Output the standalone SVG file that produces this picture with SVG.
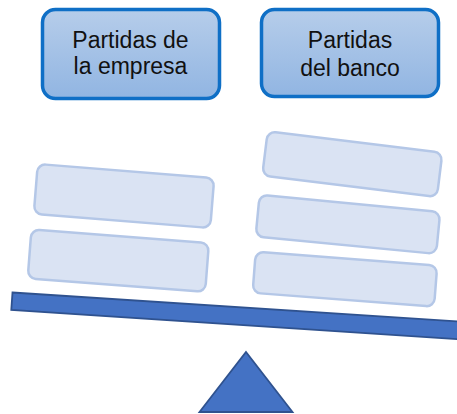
<svg xmlns="http://www.w3.org/2000/svg" width="457" height="414" viewBox="0 0 457 414">
  <defs>
    <linearGradient id="hdrGrad" x1="0" y1="0" x2="0" y2="1">
      <stop offset="0" stop-color="#b6cdea"/>
      <stop offset="1" stop-color="#91b5e2"/>
    </linearGradient>
    <style>
      .hdr { fill: url(#hdrGrad); stroke: #0f6fc6; stroke-width: 3.5; }
      .hdr-text { font-family: "Liberation Sans", Arial, sans-serif; font-size: 23px; fill: #111111; text-anchor: middle; }
      .item { fill: #dae3f3; stroke: #b4c7e7; stroke-width: 2.5; }
      .solid { fill: #4472c4; stroke: #2f528f; stroke-width: 1.8; stroke-linejoin: miter; }
    </style>
  </defs>

  <rect width="457" height="414" fill="#ffffff"/>

  <g id="node-empresa">
    <rect class="hdr" x="42.5" y="9.5" width="177" height="89" rx="13" ry="13"/>
    <text class="hdr-text" x="130.5" y="47.5">Partidas de</text>
    <text class="hdr-text" x="130.5" y="74">la empresa</text>
  </g>

  <g id="node-banco">
    <rect class="hdr" x="261.5" y="9.5" width="177" height="87" rx="13" ry="13"/>
    <text class="hdr-text" x="350" y="48">Partidas</text>
    <text class="hdr-text" x="350" y="75.5">del banco</text>
  </g>

  <g id="item-empresa-1">
    <rect class="item" x="-88.5" y="-25" width="177" height="50" rx="8" transform="translate(124 196) rotate(4.6)"/>
  </g>
  <g id="item-empresa-2">
    <rect class="item" x="-89" y="-24.5" width="178" height="49" rx="8" transform="translate(118.3 260.7) rotate(4.4)"/>
  </g>

  <g id="item-banco-1">
    <rect class="item" x="-88" y="-22.3" width="176" height="44.6" rx="8" transform="translate(352.3 164.2) rotate(7)"/>
  </g>
  <g id="item-banco-2">
    <rect class="item" x="-90.7" y="-21" width="181.4" height="42" rx="8" transform="translate(347.9 224.3) rotate(5.5)"/>
  </g>
  <g id="item-banco-3">
    <rect class="item" x="-91" y="-20.6" width="182" height="41.2" rx="8" transform="translate(344.9 279.2) rotate(4.4)"/>
  </g>

  <g id="beam">
    <polygon class="solid" points="12.5,292.5 471.5,322.4 470.3,339.9 11.3,310"/>
  </g>

  <g id="fulcrum">
    <polygon class="solid" points="246,352 292.5,412 199.5,412"/>
  </g>
</svg>
